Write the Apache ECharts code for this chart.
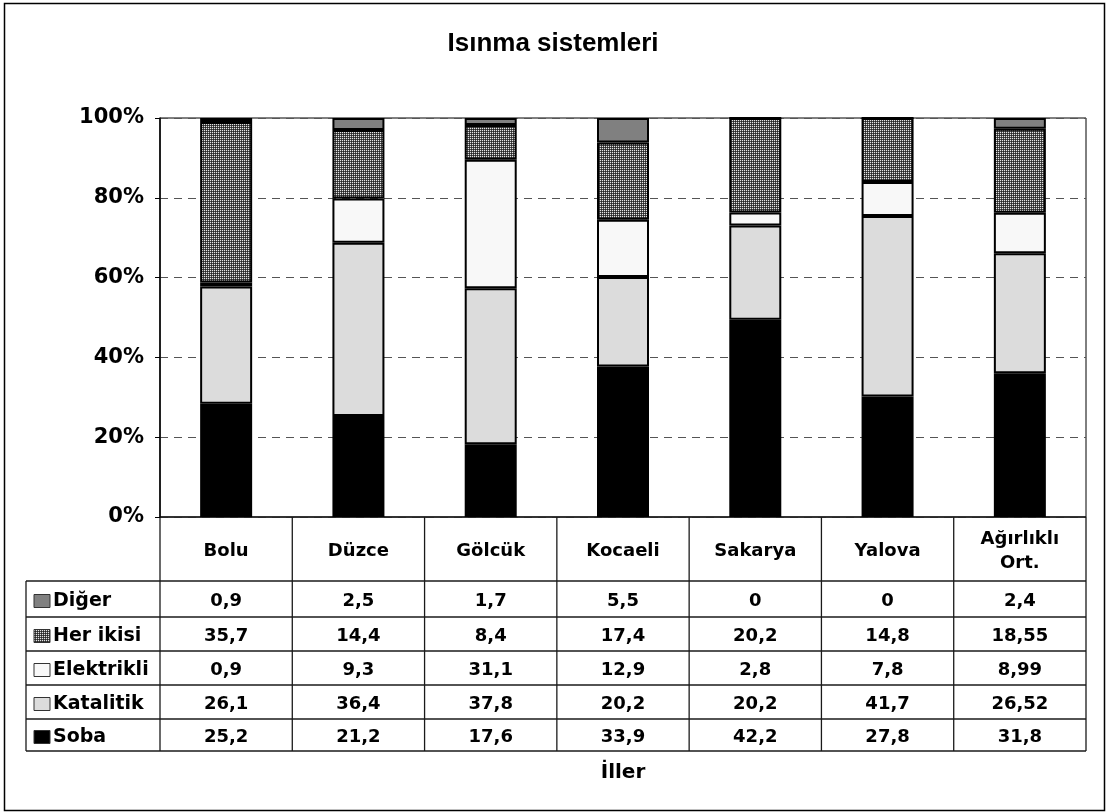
<!DOCTYPE html>
<html>
<head>
<meta charset="utf-8">
<title>Isınma sistemleri</title>
<script src="https://cdn.jsdelivr.net/npm/echarts@6/dist/echarts.min.js"></script>
<style>
  html, body { margin: 0; padding: 0; background: #fff; }
  #chart { width: 1106px; height: 812px; }
</style>
</head>
<body>
<div id="chart"></div>
<script>
// Heating systems by province (values as listed in the data table)
const categories = ['Bolu', 'Düzce', 'Gölcük', 'Kocaeli', 'Sakarya', 'Yalova', 'Ağırlıklı\nOrt.'];
const diger      = [0.9, 2.5, 1.7, 5.5, 0, 0, 2.4];
const herIkisi   = [35.7, 14.4, 8.4, 17.4, 20.2, 14.8, 18.55];
const elektrikli = [0.9, 9.3, 31.1, 12.9, 2.8, 7.8, 8.99];
const katalitik  = [26.1, 36.4, 37.8, 20.2, 20.2, 41.7, 26.52];
const soba       = [25.2, 21.2, 17.6, 33.9, 42.2, 27.8, 31.8];
const yTicks     = [0, 20, 40, 60, 80, 100];

// Fine cross-hatch tile used for "Her ikisi"
function makeHatch() {
  const c = document.createElement('canvas');
  c.width = 2; c.height = 2;
  const g = c.getContext('2d');
  g.fillStyle = '#4c4c4c'; g.fillRect(0, 0, 2, 2);
  g.fillStyle = '#e4e4e4'; g.fillRect(0, 0, 1, 1);
  g.fillStyle = '#262626'; g.fillRect(1, 1, 1, 1);
  return c;
}
const hatch = { image: makeHatch(), repeat: 'repeat' };

// Series listed bottom to top of the stack; table rows go top to bottom
const stackDefs = [
  { name: 'Soba',       data: soba,       fill: '#000000' },
  { name: 'Katalitik',  data: katalitik,  fill: '#dcdcdc' },
  { name: 'Elektrikli', data: elektrikli, fill: '#f8f8f8' },
  { name: 'Her ikisi',  data: herIkisi,   fill: hatch },
  { name: 'Diğer',      data: diger,      fill: '#808080' }
];

const totals = categories.map((_, i) => stackDefs.reduce((s, d) => s + d.data[i], 0));
const toPct = arr => arr.map((v, i) => v / totals[i] * 100);
const fmt = v => String(v).replace('.', ',');

const FONT_CELL = 'bold 18px "DejaVu Sans"';
const FONT_LEG  = 'bold 19px "DejaVu Sans"';

const chart = echarts.init(document.getElementById('chart'), null, { renderer: 'canvas' });

const GRID = { left: 160, right: 20, top: 118, bottom: 295 };

chart.setOption({
  backgroundColor: '#ffffff',
  animation: false,
  title: {
    text: 'Isınma sistemleri',
    left: 'center',
    top: 26,
    textStyle: { fontFamily: '"Liberation Sans"', fontWeight: 'bold', fontSize: 26, color: '#000' }
  },
  grid: Object.assign({ show: true, borderColor: '#000', borderWidth: 1, backgroundColor: 'transparent' }, GRID),
  xAxis: {
    type: 'category',
    data: categories,
    axisLine: { show: false },
    axisTick: { show: false },
    axisLabel: { show: false }
  },
  yAxis: {
    type: 'value',
    min: yTicks[0],
    max: yTicks[yTicks.length - 1],
    interval: yTicks[1] - yTicks[0],
    axisLine: { show: true, lineStyle: { color: '#000', width: 1.5 } },
    axisTick: { show: true, inside: false, length: 5, lineStyle: { color: '#000', width: 1 } },
    axisLabel: {
      margin: 16,
      formatter: '{value}%',
      color: '#000',
      fontFamily: '"DejaVu Sans"',
      fontWeight: 'bold',
      fontSize: 21
    },
    splitLine: { show: true, lineStyle: { color: '#555', width: 1, type: [8, 6] } }
  },
  series: stackDefs.map(d => ({
    name: d.name,
    type: 'bar',
    stack: 'total',
    barWidth: 52,
    data: toPct(d.data),
    itemStyle: { color: d.fill, borderColor: '#000', borderWidth: 2 }
  }))
});

// Data table under the plot area
function buildTable() {
  const yTop = chart.convertToPixel({ yAxisIndex: 0 }, 0);
  const rowLines = [581, 617, 651, 685, 719, 751];
  const xLeft = 26;
  const centers = categories.map((_, i) => chart.convertToPixel({ xAxisIndex: 0 }, i));
  const step = centers.length > 1 ? centers[1] - centers[0] : 132;
  const colEdges = [centers[0] - step / 2].concat(centers.map(c => c + step / 2));
  const xRight = colEdges[colEdges.length - 1];
  const els = [];
  const line = (x1, y1, x2, y2, w) => els.push({
    type: 'line', silent: true,
    shape: { x1, y1, x2, y2 },
    style: { stroke: '#1a1a1a', lineWidth: w || 1.3 }
  });
  const text = (x, y, str, font, align, lh) => els.push({
    type: 'text', silent: true, x, y,
    style: {
      text: str, font, fill: '#000',
      align: align || 'center', verticalAlign: 'middle',
      textAlign: align || 'center', textVerticalAlign: 'middle',
      lineHeight: lh || undefined
    }
  });

  // grid lines of the table
  line(colEdges[0], yTop, xRight, yTop);
  rowLines.forEach(y => line(xLeft, y, xRight, y));
  colEdges.forEach(x => line(x, yTop, x, rowLines[rowLines.length - 1]));
  line(xLeft, rowLines[0], xLeft, rowLines[rowLines.length - 1]);

  // category header row
  categories.forEach((c, i) => {
    text(centers[i], (yTop + rowLines[0]) / 2 + 2, c, FONT_CELL, 'center', 24);
  });

  // value rows, top to bottom: Diğer ... Soba
  const rows = stackDefs.slice().reverse();
  rows.forEach((d, r) => {
    const yc = (rowLines[r] + rowLines[r + 1]) / 2 + 2;
    els.push({
      type: 'rect', silent: true,
      shape: { x: 34, y: Math.round(yc - 7) + 0.5, width: 16, height: 13 },
      style: { fill: d.fill, stroke: '#333', lineWidth: 1 }
    });
    text(53, yc, d.name, FONT_LEG, 'left');
    d.data.forEach((v, i) => text(centers[i], yc, fmt(v), FONT_CELL, 'center'));
  });

  // axis name under the table
  const plotMid = (colEdges[0] + xRight) / 2;
  text(plotMid, 773, 'İller', 'bold 20px "DejaVu Sans"', 'center');

  // outer chart frame
  els.push({
    type: 'rect', silent: true,
    shape: { x: 4.5, y: 3.5, width: 1100, height: 807 },
    style: { fill: 'none', stroke: '#000', lineWidth: 1.5 }
  });

  chart.setOption({ graphic: { elements: els } });
}
buildTable();
</script>
</body>
</html>
